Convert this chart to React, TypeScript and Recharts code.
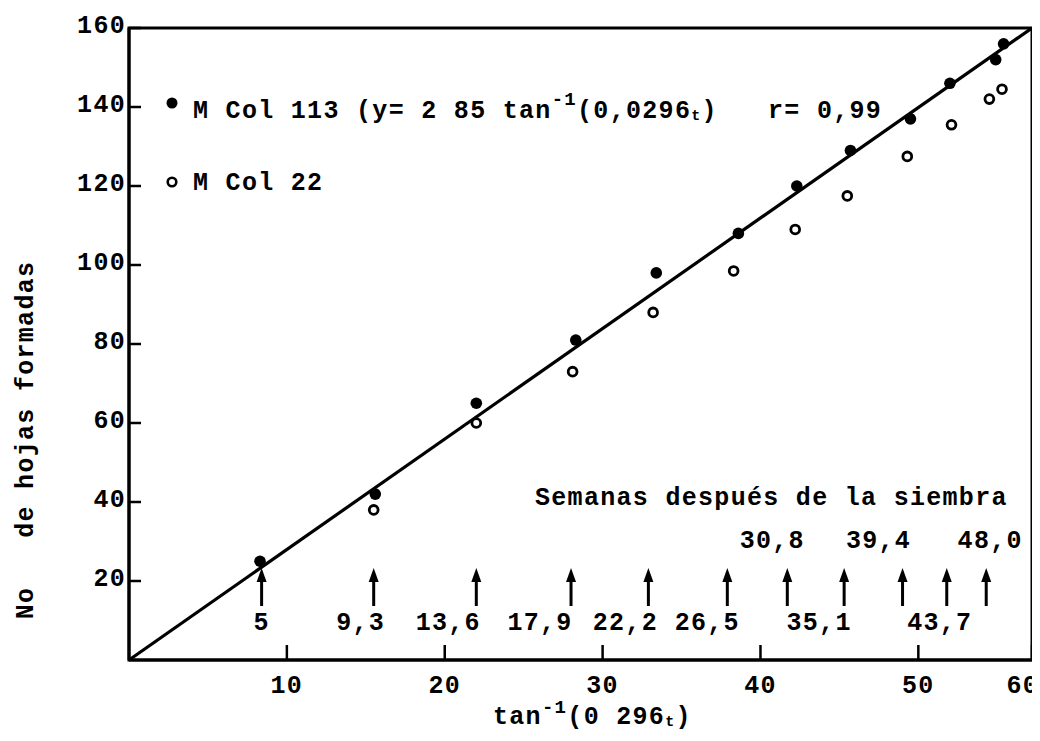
import React from "react";
import {
  ScatterChart,
  Scatter,
  XAxis,
  YAxis,
  ReferenceLine,
  ReferenceArea,
  Legend,
} from "recharts";

const FONT = "'Liberation Mono', 'DejaVu Sans Mono', monospace";

// x = tan^-1(0,0296 t) in degrees; the frame's right edge sits at 57,2
const X_MAX = 57.2;
const xTicks = [10, 20, 30, 40, 50, X_MAX];
const xTickLabels = ["10", "20", "30", "40", "50", "60"];
const yTicks = [20, 40, 60, 80, 100, 120, 140, 160];

// M Col 113 (filled)
const col113X = [8.3, 15.6, 22.0, 28.3, 33.4, 38.6, 42.3, 45.7, 49.5, 52.0, 54.9, 55.4];
const col113Y = [25, 42, 65, 81, 98, 108, 120, 129, 137, 146, 152, 156];

// M Col 22 (open)
const col22X = [15.5, 22.0, 28.1, 33.2, 38.3, 42.2, 45.5, 49.3, 52.1, 54.5, 55.3];
const col22Y = [38, 60, 73, 88, 98.5, 109, 117.5, 127.5, 135.5, 142, 144.5];

// fitted line, corner to corner
const fitLine = [
  { x: 0, y: 0 },
  { x: X_MAX, y: 160 },
];

// weeks after sowing, marked with arrows
const weekX = [8.4, 15.5, 22.0, 28.0, 32.9, 37.9, 41.7, 45.3, 49.0, 51.8, 54.3];
const weekLabels = ["5", "9,3", "13,6", "17,9", "22,2", "26,5", "30,8", "35,1", "39,4", "43,7", "48,0"];
const weekAbove = [false, false, false, false, false, false, true, false, true, false, true];

// label nudges (px) relative to each arrow
const weekLabelDx = [0, -13, -28, -31, -23, -20, -15, -25, -24, -7, 4];

const col113 = col113X.map((x, i) => ({ x, y: col113Y[i] }));
const col22 = col22X.map((x, i) => ({ x, y: col22Y[i] }));

const textStyle = {
  fontFamily: FONT,
  fontWeight: 700,
  fontSize: 25,
  letterSpacing: 1.3,
  fill: "#000",
};

function FilledDot(p: any) {
  return <circle cx={p.cx} cy={p.cy} r={5.8} fill="#000" />;
}

function OpenDot(p: any) {
  return <circle cx={p.cx} cy={p.cy} r={4.4} fill="#fff" stroke="#000" strokeWidth={2.8} />;
}

function XTick(p: any) {
  const last = p.index === xTicks.length - 1;
  return (
    <text
      x={last ? p.x + 7 : p.x}
      y={p.y}
      dy={48}
      textAnchor={last ? "end" : "middle"}
      {...textStyle}
    >
      {xTickLabels[p.index]}
    </text>
  );
}

function YTick(p: any) {
  return (
    <text x={p.x} y={p.y} dy={5} textAnchor="end" {...textStyle}>
      {p.payload.value}
    </text>
  );
}

function XTitle() {
  return (
    <text x={493} y={724} {...textStyle}>
      tan
      <tspan dy={-11} fontSize={19}>-1</tspan>
      <tspan dy={11}>(0 296</tspan>
      <tspan dy={2} fontSize={15}>t</tspan>
      <tspan dy={-2}>)</tspan>
    </text>
  );
}

function YTitle() {
  return (
    <text
      x={33}
      y={440}
      textAnchor="middle"
      transform="rotate(-90 33 440)"
      style={{ whiteSpace: "pre" }}
      {...textStyle}
    >
      {"No   de hojas formadas"}
    </text>
  );
}

function WeekArrow(p: any, i: number) {
  const x = p.x1;
  const bottom = Math.max(p.y1, p.y2);
  const above = weekAbove[i];
  return (
    <g>
      <line x1={x} x2={x} y1={bottom - 54} y2={bottom - 80} stroke="#000" strokeWidth={3} />
      <polygon points={`${x},${bottom - 92} ${x - 5},${bottom - 78} ${x + 5},${bottom - 78}`} fill="#000" />
      <text
        x={x + weekLabelDx[i]}
        y={above ? bottom - 112 : bottom - 30}
        textAnchor="middle"
        {...textStyle}
      >
        {weekLabels[i]}
      </text>
    </g>
  );
}

function LegendBox() {
  return (
    <svg
      width={1040}
      height={220}
      style={{ position: "absolute", left: 0, top: 0, overflow: "visible" }}
    >
      <circle cx={172} cy={103} r={5.5} fill="#000" />
      <text x={193} y={118} {...textStyle}>
        M Col 113 (y= 2 85 tan
        <tspan dy={-13} fontSize={19}>-1</tspan>
        <tspan dy={13}>(0,0296</tspan>
        <tspan dy={2} fontSize={15}>t</tspan>
        <tspan dy={-2}>)</tspan>
        <tspan x={768}>r= 0,99</tspan>
      </text>
      <circle cx={172} cy={182} r={4.3} fill="#fff" stroke="#000" strokeWidth={2.6} />
      <text x={193} y={190} {...textStyle}>
        M Col 22
      </text>
    </svg>
  );
}

export default function App() {
  return (
    <div style={{ margin: -8, width: 1040, height: 741, position: "relative", background: "#fff" }}>
      <ScatterChart width={1040} height={741} margin={{ top: 28, right: 8, bottom: 0, left: 0 }}>
        <XAxis
          type="number"
          dataKey="x"
          domain={[0, X_MAX]}
          ticks={xTicks}
          interval={0}
          allowDataOverflow
          height={81}
          axisLine={{ stroke: "#000", strokeWidth: 3 }}
          tickLine={{ stroke: "#000", strokeWidth: 2.5 }}
          tickSize={-15}
          tickMargin={0}
          tick={XTick}
          label={<XTitle />}
        />
        <YAxis
          type="number"
          dataKey="y"
          domain={[0, 160]}
          ticks={yTicks}
          interval={0}
          allowDataOverflow
          width={129}
          axisLine={{ stroke: "#000", strokeWidth: 3 }}
          tickLine={{ stroke: "#000", strokeWidth: 2.5 }}
          tickSize={-12}
          tickMargin={15}
          tick={YTick}
          label={<YTitle />}
        />
        <ReferenceArea x1={0} x2={X_MAX} y1={0} y2={160} fill="none" stroke="#000" strokeWidth={3} />
        <ReferenceLine segment={fitLine} stroke="#000" strokeWidth={3.2} />
        {weekX.map((wx, i) => (
          <ReferenceLine key={weekLabels[i]} x={wx} shape={(p: any) => WeekArrow(p, i)} />
        ))}
        <Scatter name="M Col 113" data={col113} shape={FilledDot} isAnimationActive={false} />
        <Scatter name="M Col 22" data={col22} shape={OpenDot} isAnimationActive={false} />
        <text x={535} y={505} {...textStyle}>
          Semanas después de la siembra
        </text>
        <Legend
          layout="horizontal"
          verticalAlign="middle"
          align="center"
          wrapperStyle={{ top: 0, left: 0, width: 0, height: 0 }}
          content={() => <LegendBox />}
        />
      </ScatterChart>
    </div>
  );
}
